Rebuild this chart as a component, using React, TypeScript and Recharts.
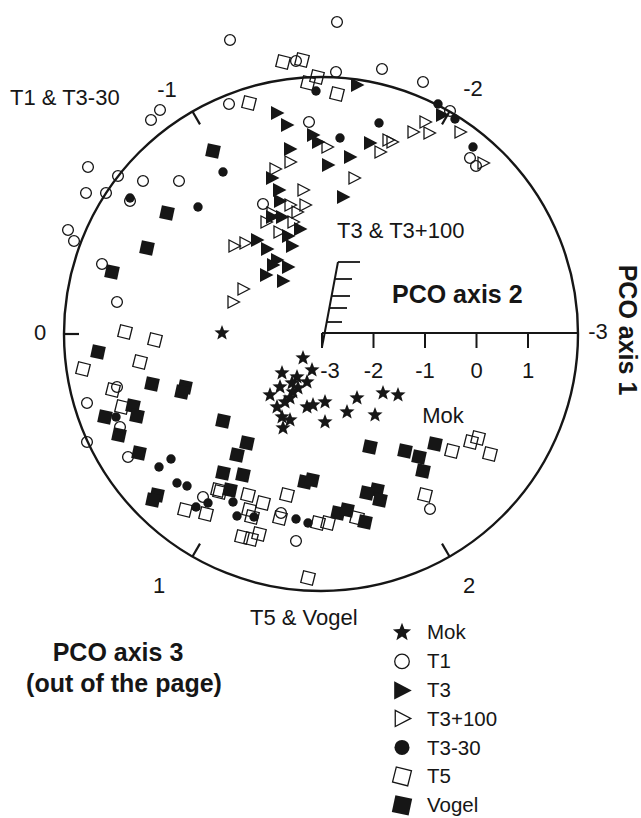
import { Legend, ReferenceDot, ReferenceLine, Scatter, ScatterChart, XAxis, YAxis } from "recharts";

type Pt = [number, number];

// projection units: circle centre at (0,0), rim at radius 25.7
const mok: Pt[] = [
  [-9.9, 0.1], [-1.8, -2.4], [-3.9, -3.9], [-2.4, -4.3], [-1.4, -4.8], [-2.9, -4.9],
  [-5.1, -6.1], [-4.1, -5.3], [-2.8, -5.8], [-2.3, -5.4], [-3.1, -6.4], [-4.4, -7.3],
  [-3.6, -6.8], [-3.9, -8.3], [-3.1, -8.6], [-3.8, -9.4], [-1.4, -7.3], [-0.8, -7.1],
  [0.4, -6.8], [0.4, -8.8], [2.6, -7.8], [3.6, -6.4], [6.2, -5.9], [7.7, -6.1],
  [5.4, -8.1], [-0.9, -3.6],
];

const t1: Pt[] = [
  [-9.1, 29.4], [1.6, 31.2], [-16.1, 22.4], [-17.0, 21.4], [-9.2, 23.0], [1.5, 26.2],
  [6.1, 26.5], [-2.5, 27.3], [-1.2, 21.2], [10.2, 25.2], [12.9, 22.3], [14.9, 17.6],
  [15.5, 16.8], [-23.3, 16.7], [-20.3, 15.8], [-17.8, 15.3], [-14.2, 15.3], [-23.5, 14.1],
  [-21.5, 14.1], [-19.1, 13.3], [-25.3, 10.4], [-24.7, 9.3], [-21.9, 7.0], [-20.4, 3.2],
  [-5.8, 13.0], [-20.4, -5.3], [-23.4, -6.9], [-23.4, -10.8], [-20.1, -9.3], [-19.3, -12.3],
  [-11.8, -16.3], [-4.0, -17.9], [-2.5, -20.7], [10.9, -17.5],
];

const t3: Pt[] = [
  [3.6, 24.9], [-4.4, 22.1], [-3.4, 20.9], [-0.8, 19.9], [-0.3, 19.2], [-3.1, 18.5],
  [2.9, 17.7], [0.7, 16.9], [4.9, 19.1], [12.1, 21.9], [-4.9, 15.6], [-4.2, 14.4],
  [2.2, 13.7], [-4.1, 13.3], [-3.9, 11.7], [-4.9, 11.7], [-2.1, 10.5], [-3.3, 9.8],
  [-2.9, 8.8], [-6.4, 9.4], [-5.4, 8.5], [-4.4, 7.4], [-3.3, 6.7], [-5.5, 5.9],
  [-3.8, 5.3], [-4.8, 6.9],
];

const t3plus100: Pt[] = [
  [0.6, 18.7], [6.7, 19.4], [5.9, 18.2], [-3.1, 17.2], [-4.6, 16.5], [3.3, 15.6],
  [-1.8, 14.4], [10.4, 21.2], [9.2, 20.2], [10.8, 20.1], [13.9, 20.2], [7.1, 19.2],
  [16.2, 17.1], [-1.6, 12.9], [-3.1, 12.9], [-2.4, 12.2], [-4.9, 12.1], [-5.5, 11.2],
  [-2.8, 11.2], [-4.2, 10.2], [-7.6, 9.1], [-8.7, 8.8], [-7.8, 4.5], [-8.8, 3.2],
];

const t3minus30: Pt[] = [
  [-0.5, 24.3], [1.9, 19.6], [5.8, 21.1], [11.7, 23.0], [13.4, 21.5], [15.2, 18.7],
  [-9.8, 16.2], [-12.3, 12.7], [-19.1, 13.6], [-20.5, -8.3], [-15.0, -12.5], [-16.2, -13.3],
  [-14.4, -14.9], [-13.4, -15.2], [-12.5, -17.3], [-11.3, -16.9], [-8.8, -16.8], [-8.4, -18.2],
  [-6.7, -18.3], [-2.5, -18.5], [-1.3, -18.9],
];

const t5: Pt[] = [
  [-3.8, 27.2], [-1.9, 27.4], [-0.4, 25.7], [-1.3, 25.1], [1.6, 24.0], [-7.2, 23.1],
  [-19.6, 0.2], [-16.6, -0.6], [-18.1, -2.8], [-23.8, -3.5], [-20.8, -5.6], [-19.9, -7.3],
  [-10.3, -15.6], [-7.3, -16.1], [-5.8, -16.9], [-3.4, -16.1], [-7.2, -17.6], [-6.9, -18.3],
  [-4.1, -18.4], [-0.3, -18.9], [0.7, -18.9], [3.6, -18.4], [-7.9, -20.3], [-7.0, -20.5],
  [-6.2, -20.0], [-1.3, -24.4], [-13.6, -17.6], [-11.5, -18.0], [-10.1, -15.8], [13.1, -11.7],
  [15.0, -10.8], [15.7, -10.4], [16.9, -12.0], [10.4, -16.1],
];

const vogel: Pt[] = [
  [-10.8, 18.3], [-15.4, 12.1], [-17.4, 8.6], [-20.9, 6.2], [-22.3, -1.8], [-16.9, -5.0],
  [-13.6, -5.3], [-18.8, -7.2], [-18.4, -8.2], [-21.6, -8.3], [-20.2, -10.1], [-18.2, -11.9],
  [-16.4, -16.1], [-16.8, -16.6], [-13.9, -5.8], [-9.8, -8.7], [-7.4, -10.9], [-8.4, -12.1],
  [-9.8, -13.9], [-7.8, -14.1], [-9.1, -15.6], [-1.6, -14.8], [-0.9, -14.6], [4.9, -11.3],
  [8.4, -11.7], [5.6, -15.6], [4.6, -15.9], [5.9, -16.6], [1.7, -17.9], [2.6, -17.6],
  [4.4, -18.8], [9.8, -12.3], [11.4, -11.0], [10.2, -13.7],
];

const legendOrder = ["Mok", "T1", "T3", "T3+100", "T3-30", "T5", "Vogel"];

const rimTickAngles = [60, 120, 180, 240, 300];
const rimLabels = [
  { t: "-1", x: 167, y: 89 },
  { t: "-2", x: 473, y: 88 },
  { t: "0", x: 40, y: 332 },
  { t: "-3", x: 598, y: 331 },
  { t: "1", x: 159, y: 585 },
  { t: "2", x: 469, y: 585 },
];

const insetTicks = [-3, -2, -1, 0, 1];
const combLevels = [7.2, 5.5, 3.8, 2.6, 1.2];
const combEnds = [3.9, 3.1, 2.9, 2.6, 2.1];

const INK = "#161616";
const FONT = "'Liberation Sans', Arial, Helvetica, sans-serif";
const R = 25.7;

function starPath(cx: number, cy: number, ro: number, ri: number) {
  let d = "";
  for (let i = 0; i < 10; i++) {
    const rad = i % 2 === 0 ? ro : ri;
    const a = -Math.PI / 2 + (i * Math.PI) / 5;
    d += (i ? "L" : "M") + (cx + rad * Math.cos(a)).toFixed(1) + "," + (cy + rad * Math.sin(a)).toFixed(1);
  }
  return d + "Z";
}

const markers: Record<string, (cx: number, cy: number, k: number) => any> = {
  star: (cx, cy, k) => <path d={starPath(cx, cy, 8 * k, 3.4 * k)} fill={INK} />,
  openCircle: (cx, cy, k) => <circle cx={cx} cy={cy} r={5.4 * k} fill="none" stroke={INK} strokeWidth={1.3} />,
  fillTri: (cx, cy, k) => (
    <polygon points={`${cx - 6 * k},${cy - 7 * k} ${cx + 7.5 * k},${cy} ${cx - 6 * k},${cy + 7 * k}`} fill={INK} />
  ),
  openTri: (cx, cy, k) => (
    <polygon
      points={`${cx - 5 * k},${cy - 6 * k} ${cx + 6.5 * k},${cy} ${cx - 5 * k},${cy + 6 * k}`}
      fill="none"
      stroke={INK}
      strokeWidth={1.3}
    />
  ),
  dot: (cx, cy, k) => <circle cx={cx} cy={cy} r={4.7 * k} fill={INK} />,
  openSquare: (cx, cy, k) => (
    <rect
      x={cx - 6 * k}
      y={cy - 6 * k}
      width={12 * k}
      height={12 * k}
      fill="none"
      stroke={INK}
      strokeWidth={1.3}
      transform={`rotate(14 ${cx} ${cy})`}
    />
  ),
  fillSquare: (cx, cy, k) => (
    <rect x={cx - 6.6 * k} y={cy - 6.6 * k} width={13.2 * k} height={13.2 * k} fill={INK} transform={`rotate(12 ${cx} ${cy})`} />
  ),
};

const series = [
  { name: "T5", data: t5, marker: "openSquare", legendK: 1.3 },
  { name: "Vogel", data: vogel, marker: "fillSquare", legendK: 1.3 },
  { name: "T1", data: t1, marker: "openCircle", legendK: 1.35 },
  { name: "T3-30", data: t3minus30, marker: "dot", legendK: 1.6 },
  { name: "T3+100", data: t3plus100, marker: "openTri", legendK: 1.35 },
  { name: "T3", data: t3, marker: "fillTri", legendK: 1.3 },
  { name: "Mok", data: mok, marker: "star", legendK: 1.2 },
];

const rows = (pts: Pt[]) => pts.map(([x, y]) => ({ x, y }));
const insetX = (v: number) => 0.1 + (v + 3) * 5.15;
const combStart = (y: number) => 0.1 + ((y + 1.3) / 8.5) * 1.6;

function renderLegend() {
  return (
    <div style={{ fontFamily: FONT, fontSize: 20.5, color: INK }}>
      {legendOrder.map((name) => {
        const s = series.find((d) => d.name === name)!;
        return (
          <div key={name} style={{ display: "flex", alignItems: "center", height: 28.8 }}>
            <svg width={26} height={28.8}>
              {markers[s.marker](12, 14.4, s.legendK)}
            </svg>
            <span style={{ marginLeft: 11 }}>{name}</span>
          </div>
        );
      })}
    </div>
  );
}

export default function App() {
  const txt = { fontFamily: FONT, fill: INK };
  return (
    <div style={{ position: "absolute", left: 0, top: 0, width: 641, height: 818, background: "#fff" }}>
      <ScatterChart width={641} height={818} margin={{ top: 0, right: 0, bottom: 0, left: 0 }}>
        <XAxis type="number" dataKey="x" domain={[-32.1, 32.0]} hide allowDataOverflow />
        <YAxis type="number" dataKey="y" domain={[-48.4, 33.4]} hide allowDataOverflow />
        <ReferenceDot x={0} y={0} r={257} fill="none" stroke={INK} strokeWidth={2.4} />
        {rimTickAngles.map((a) => {
          const c = Math.cos((a * Math.PI) / 180);
          const s = Math.sin((a * Math.PI) / 180);
          return (
            <ReferenceLine
              key={a}
              segment={[{ x: R * c, y: R * s }, { x: (R - 1.5) * c, y: (R - 1.5) * s }]}
              stroke={INK}
              strokeWidth={2.2}
            />
          );
        })}
        <ReferenceLine segment={[{ x: 0.1, y: 0.1 }, { x: R, y: 0.1 }]} stroke={INK} strokeWidth={2.2} />
        {insetTicks.map((v) => (
          <ReferenceLine
            key={v}
            segment={[{ x: insetX(v), y: 0.1 }, { x: insetX(v), y: -1.4 }]}
            stroke={INK}
            strokeWidth={2}
          />
        ))}
        <ReferenceLine segment={[{ x: 0.1, y: -1.3 }, { x: 1.7, y: 7.2 }]} stroke={INK} strokeWidth={2} />
        {combLevels.map((y, i) => (
          <ReferenceLine
            key={y}
            segment={[{ x: combStart(y), y }, { x: combEnds[i], y }]}
            stroke={INK}
            strokeWidth={1.8}
          />
        ))}
        {series.map((s) => (
          <Scatter
            key={s.name}
            name={s.name}
            data={rows(s.data)}
            isAnimationActive={false}
            shape={(p: any) => markers[s.marker](p.cx, p.cy, 1)}
          />
        ))}
        <Legend
          layout="vertical"
          align="center"
          verticalAlign="middle"
          content={renderLegend}
          wrapperStyle={{ left: 390, top: 618, width: 170 }}
        />
      </ScatterChart>
      <svg
        width={641}
        height={818}
        style={{ position: "absolute", left: 0, top: 0, pointerEvents: "none" }}
      >
        <g {...txt} fontSize={22} dominantBaseline="central">
          {rimLabels.map((l) => (
            <text key={l.t + l.x} x={l.x} y={l.y} textAnchor="middle">
              {l.t}
            </text>
          ))}
          {insetTicks.map((v) => (
            <text key={v} x={321 + insetX(v) * 10 + (v === -3 ? 8 : 0)} y={370} textAnchor="middle">
              {v}
            </text>
          ))}
          <text x={10} y={97}>T1 &amp; T3-30</text>
          <text x={337} y={230}>T3 &amp; T3+100</text>
          <text x={443} y={415} textAnchor="middle">Mok</text>
          <text x={250} y={617}>T5 &amp; Vogel</text>
        </g>
        <g {...txt} fontSize={25} fontWeight="bold" dominantBaseline="central">
          <text x={392} y={294}>PCO axis 2</text>
          <text x={0} y={0} textAnchor="middle" transform="translate(628 330) rotate(90)">
            PCO axis 1
          </text>
          <text x={118} y={652} textAnchor="middle">PCO axis 3</text>
          <text x={124} y={683} textAnchor="middle">(out of the page)</text>
        </g>
      </svg>
    </div>
  );
}
